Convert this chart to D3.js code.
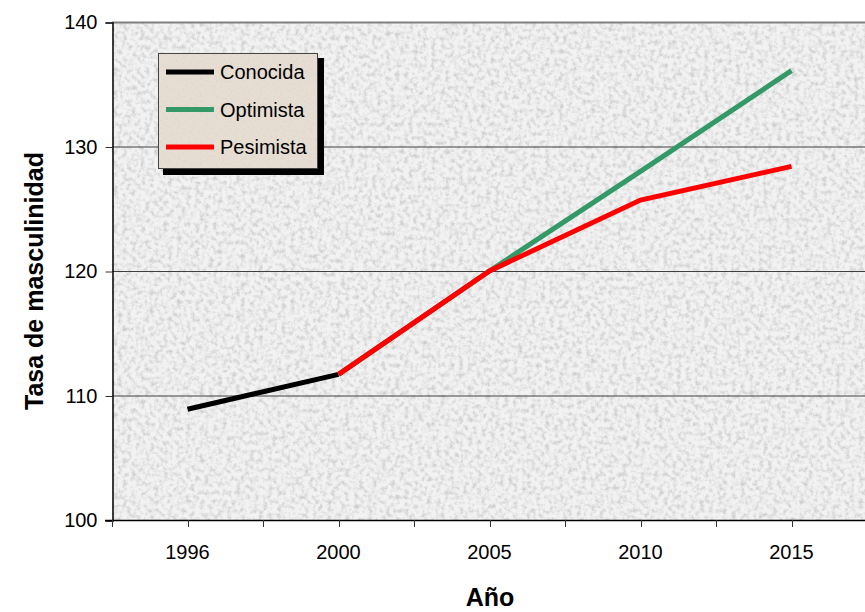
<!DOCTYPE html>
<html>
<head>
<meta charset="utf-8">
<script src="https://d3js.org/d3.v7.min.js"></script>
<style>
  body { margin: 0; background: #fff; }
  svg { display: block; font-family: "Liberation Sans", Arial, sans-serif; }
</style>
</head>
<body>
<svg id="chart" width="865" height="612"></svg>
<script>
// data
var years = ["1996", "2000", "2005", "2010", "2015"];
var conocida = [108.9, 111.7, null, null, null];
var optimista = [null, 111.7, 120.0, 128.0, 136.1];
var pesimista = [null, 111.7, 120.0, 125.7, 128.4];
var yTicks = [100, 110, 120, 130, 140];
var seriesNames = ["Conocida", "Optimista", "Pesimista"];
var seriesColors = ["#000000", "#339966", "#ff0000"];

var svg = d3.select("#chart");
var mLeft = 112, mRight = 867, mTop = 22, mBottom = 520;

var x = d3.scaleBand().domain(years).range([mLeft, mRight]);
var y = d3.scaleLinear().domain([100, 140]).range([mBottom, mTop]);

// granite texture for the plot area (speckles over a light fill)
var defs = svg.append("defs");
var f = defs.append("filter").attr("id", "granite")
  .attr("x", 0).attr("y", 0).attr("width", "100%").attr("height", "100%");
f.append("feTurbulence").attr("type", "fractalNoise")
  .attr("baseFrequency", "0.22").attr("numOctaves", 3).attr("seed", 3)
  .attr("result", "noise");
f.append("feColorMatrix").attr("in", "noise").attr("type", "matrix")
  .attr("values", "0 0 0 0 0.62  0 0 0 0 0.62  0 0 0 0 0.62  2.4 0 0 0 -1.0")
  .attr("result", "spots");
f.append("feComposite").attr("in", "spots").attr("in2", "SourceGraphic").attr("operator", "atop");

var f2 = defs.append("filter").attr("id", "sand")
  .attr("x", 0).attr("y", 0).attr("width", "100%").attr("height", "100%");
f2.append("feTurbulence").attr("type", "fractalNoise")
  .attr("baseFrequency", "0.4").attr("numOctaves", 2).attr("seed", 7)
  .attr("result", "noise");
f2.append("feColorMatrix").attr("in", "noise").attr("type", "matrix")
  .attr("values", "0 0 0 0 0.70  0 0 0 0 0.64  0 0 0 0 0.58  1.6 0 0 0 -0.75")
  .attr("result", "spots");
f2.append("feComposite").attr("in", "spots").attr("in2", "SourceGraphic").attr("operator", "atop");

svg.append("rect")
  .attr("x", mLeft).attr("y", mTop)
  .attr("width", mRight - mLeft).attr("height", mBottom - mTop)
  .attr("fill", "#f2f2f2")
  .attr("filter", "url(#granite)");

// gridlines
svg.append("g").selectAll("line")
  .data(yTicks.filter(function(d) { return d > 100; }))
  .enter().append("line")
  .attr("x1", mLeft).attr("x2", mRight)
  .attr("y1", function(d) { return y(d) + 0.5; })
  .attr("y2", function(d) { return y(d) + 0.5; })
  .attr("stroke", function(d) { return d == 140 ? "#808080" : "#404040"; })
  .attr("stroke-width", function(d) { return d == 140 ? 2 : 1; });

// y axis
var yAxis = d3.axisLeft(y).tickValues(yTicks).tickSize(7).tickPadding(8);
var gy = svg.append("g").attr("transform", "translate(" + (mLeft + 0.5) + ",0.5)").call(yAxis);
gy.select(".domain").attr("stroke", "#000").attr("stroke-width", 1.5);
gy.selectAll(".tick line").attr("stroke", "#333");
gy.selectAll("text").attr("font-size", "20px").attr("fill", "#000")
  .attr("font-family", "Liberation Sans, Arial, sans-serif");

// x axis: ticks on category centres and boundaries
var tickPos = [];
years.forEach(function(d) {
  tickPos.push(x(d));
  tickPos.push(x(d) + x.bandwidth() / 2);
});
var gx = svg.append("g");
gx.append("line").attr("x1", mLeft - 7).attr("x2", mRight)
  .attr("y1", mBottom + 0.5).attr("y2", mBottom + 0.5)
  .attr("stroke", "#000").attr("stroke-width", 1.5);
gx.selectAll("line.t").data(tickPos).enter().append("line")
  .attr("class", "t")
  .attr("x1", function(d) { return Math.round(d) + 0.5; })
  .attr("x2", function(d) { return Math.round(d) + 0.5; })
  .attr("y1", mBottom).attr("y2", mBottom + 7)
  .attr("stroke", "#333");
gx.selectAll("text").data(years).enter().append("text")
  .attr("x", function(d) { return x(d) + x.bandwidth() / 2; })
  .attr("y", 559)
  .attr("text-anchor", "middle")
  .attr("font-size", "20px")
  .text(function(d) { return d; });

// axis titles
svg.append("text")
  .attr("x", 490).attr("y", 606)
  .attr("text-anchor", "middle")
  .attr("font-size", "25px").attr("font-weight", "bold")
  .text("Año");
svg.append("text")
  .attr("transform", "translate(43,281) rotate(-90)")
  .attr("text-anchor", "middle")
  .attr("font-size", "25px").attr("font-weight", "bold")
  .text("Tasa de masculinidad");

// lines
var line = d3.line()
  .defined(function(d) { return d.v != null; })
  .x(function(d) { return x(d.year) + x.bandwidth() / 2; })
  .y(function(d) { return y(d.v); });

function toPts(arr) {
  return years.map(function(yr, i) { return { year: yr, v: arr[i] }; });
}

var allSeries = [conocida, optimista, pesimista];
allSeries.forEach(function(s, i) {
  svg.append("path")
    .datum(toPts(s))
    .attr("d", line)
    .attr("fill", "none")
    .attr("stroke", seriesColors[i])
    .attr("stroke-width", 5);
});

// legend
var lg = svg.append("g").attr("transform", "translate(158,53)");
lg.append("rect").attr("x", 5).attr("y", 5).attr("width", 161).attr("height", 117).attr("fill", "#000");
lg.append("rect").attr("x", 0).attr("y", 0).attr("width", 160).attr("height", 116)
  .attr("fill", "#e6ddd3")
  .attr("filter", "url(#sand)");
lg.append("rect").attr("x", 0.5).attr("y", 0.5).attr("width", 159).attr("height", 115)
  .attr("fill", "none").attr("stroke", "#444");
seriesNames.forEach(function(n, i) {
  var yy = 19 + i * 37.5;
  lg.append("line").attr("x1", 8).attr("x2", 56).attr("y1", yy).attr("y2", yy)
    .attr("stroke", seriesColors[i]).attr("stroke-width", 5);
  lg.append("text").attr("x", 62).attr("y", yy + 7)
    .attr("font-size", "20px").text(n);
});
</script>
</body>
</html>
